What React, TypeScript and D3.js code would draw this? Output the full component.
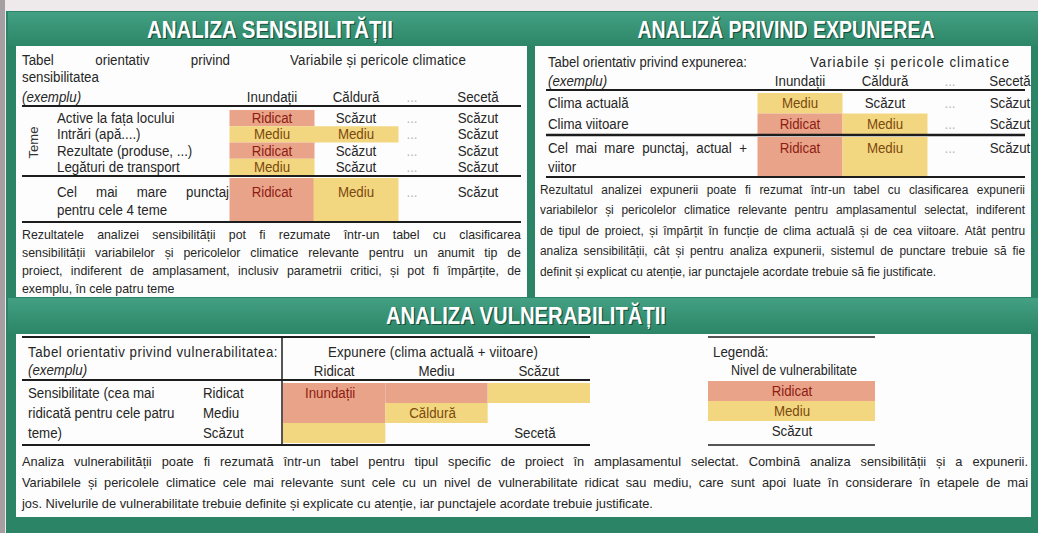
import { useEffect, useRef } from 'react';
import * as d3 from 'd3';

const W = 1038;
const H = 533;

// climate hazards (columns of the sensitivity / exposure tables)
const hazards = ['Inundații', 'Căldură', '...', 'Secetă'];

// sensitivity table
const themes = ['Active la fața locului', 'Intrări (apă....)', 'Rezultate (produse, ...)', 'Legături de transport'];
const sensitivity = [
  ['Ridicat', 'Scăzut', '...', 'Scăzut'],
  ['Mediu', 'Mediu', '...', 'Scăzut'],
  ['Ridicat', 'Scăzut', '...', 'Scăzut'],
  ['Mediu', 'Scăzut', '...', 'Scăzut'],
];
const sensitivityMax = ['Ridicat', 'Mediu', '...', 'Scăzut'];

// exposure table
const climates = ['Clima actuală', 'Clima viitoare'];
const exposure = [
  ['Mediu', 'Scăzut', '...', 'Scăzut'],
  ['Ridicat', 'Mediu', '...', 'Scăzut'],
];
const exposureMax = ['Ridicat', 'Mediu', '...', 'Scăzut'];

// vulnerability matrix: rows = sensitivity level, columns = exposure level
const levels = ['Ridicat', 'Mediu', 'Scăzut'];
const vulnerability = [
  ['Ridicat', 'Ridicat', 'Mediu'],
  ['Ridicat', 'Mediu', 'Scăzut'],
  ['Mediu', 'Scăzut', 'Scăzut'],
];
const placedHazards = [
  { hazard: 'Inundații', sens: 'Ridicat', exp: 'Ridicat' },
  { hazard: 'Căldură', sens: 'Mediu', exp: 'Mediu' },
  { hazard: 'Secetă', sens: 'Scăzut', exp: 'Scăzut' },
];
const sensLabel = ['Sensibilitate (cea mai', 'ridicată pentru cele patru', 'teme)'];

const sensNote = [
  'Rezultatele analizei sensibilității pot fi rezumate într-un tabel cu clasificarea',
  'sensibilității variabilelor și pericolelor climatice relevante pentru un anumit tip de',
  'proiect, indiferent de amplasament, inclusiv parametrii critici, și pot fi împărțite, de',
  'exemplu, în cele patru teme',
];
const expNote = [
  'Rezultatul analizei expunerii poate fi rezumat într-un tabel cu clasificarea expunerii',
  'variabilelor și pericolelor climatice relevante pentru amplasamentul selectat, indiferent',
  'de tipul de proiect, și împărțit în funcție de clima actuală și de cea viitoare. Atât pentru',
  'analiza sensibilității, cât și pentru analiza expunerii, sistemul de punctare trebuie să fie',
  'definit și explicat cu atenție, iar punctajele acordate trebuie să fie justificate.',
];
const vulnNote = [
  'Analiza vulnerabilității poate fi rezumată într-un tabel pentru tipul specific de proiect în amplasamentul selectat. Combină analiza sensibilității și a expunerii.',
  'Variabilele și pericolele climatice cele mai relevante sunt cele cu un nivel de vulnerabilitate ridicat sau mediu, care sunt apoi luate în considerare în etapele de mai',
  'jos. Nivelurile de vulnerabilitate trebuie definite și explicate cu atenție, iar punctajele acordate trebuie justificate.',
];

const FONT = "'Liberation Sans', Arial, sans-serif";
const SQUEEZE = 0.95; // the scan's face is a little narrower than Liberation Sans
const INK = '#262626';

const fillOf = d3.scaleOrdinal<string, string>().domain(['Ridicat', 'Mediu']).range(['#e8a389', '#f3d680']).unknown('none');
const inkOf = d3.scaleOrdinal<string, string>().domain(['Ridicat', 'Mediu', '...']).range(['#8e1c12', '#7a4a0e', '#b8b8b8']).unknown(INK);

type Opts = { size?: number; anchor?: string; fill?: string; weight?: number; italic?: boolean; width?: number; spread?: number };

function put(g: any, s: string, x: number, y: number, o: Opts = {}) {
  const { size = 14, anchor = 'start', fill = INK, weight = 400, italic = false, width, spread } = o;
  const t = g
    .append('text')
    .attr('x', x)
    .attr('y', y + size * 0.36)
    .attr('font-family', FONT)
    .attr('font-size', size)
    .attr('font-weight', weight)
    .attr('text-anchor', anchor)
    .attr('fill', fill)
    .text(s);
  if (italic) t.attr('font-style', 'italic');
  const natural = (t.node() as SVGTextElement).getComputedTextLength();
  if (natural <= 0) return t;
  if (spread) {
    // letter-spaced to a set width, glyphs keep the narrow face
    const glyphs = natural * SQUEEZE;
    const ls = s.length > 1 ? (spread - glyphs) / (s.length - 1) : 0;
    t.attr('letter-spacing', 0).attr('textLength', spread).attr('lengthAdjust', 'spacingAndGlyphs');
    if (ls > 0) {
      t.attr('letter-spacing', ls / SQUEEZE);
    }
  } else {
    t.attr('textLength', width ?? natural * SQUEEZE).attr('lengthAdjust', 'spacingAndGlyphs');
  }
  return t;
}

// spread the words of one line between x0 and x1
function justify(g: any, s: string, x0: number, x1: number, y: number, size: number) {
  const words = s.split(' ');
  const line = g.append('g');
  const nodes = words.map(w => put(line, w, x0, y, { size }));
  const widths = nodes.map((n: any) => +n.attr('textLength'));
  const total = d3.sum(widths);
  const gap = words.length > 1 ? (x1 - x0 - total) / (words.length - 1) : 0;
  let x = x0;
  nodes.forEach((n: any, i: number) => {
    n.attr('x', x);
    x += widths[i] + gap;
  });
}

function hline(g: any, x0: number, x1: number, y: number, w = 2) {
  g.append('line').attr('x1', x0).attr('x2', x1).attr('y1', y).attr('y2', y).attr('stroke', '#1d1d1d').attr('stroke-width', w);
}

function paragraph(g: any, lines: string[], x0: number, x1: number, y0: number, step: number, size: number) {
  lines.forEach((line, i) => {
    if (i === lines.length - 1) put(g, line, x0, y0 + i * step, { size });
    else justify(g, line, x0, x1, y0 + i * step, size);
  });
}

export default function App() {
  const ref = useRef<SVGSVGElement>(null);

  useEffect(() => {
    const svg = d3.select(ref.current);
    svg.selectAll('*').remove();

    const defs = svg.append('defs');
    const grad = defs.append('linearGradient').attr('id', 'band').attr('x1', 0).attr('x2', 0).attr('y1', 0).attr('y2', 1);
    grad.append('stop').attr('offset', '0%').attr('stop-color', '#44a083');
    grad.append('stop').attr('offset', '100%').attr('stop-color', '#2c8667');

    // paper + frame
    svg.append('rect').attr('width', W).attr('height', H).attr('fill', '#eeeaec');
    svg.append('rect').attr('x', 0).attr('y', 0).attr('width', 5).attr('height', H).attr('fill', '#a59ea2');
    svg.append('rect').attr('x', 6).attr('y', 11).attr('width', W - 6).attr('height', H - 11).attr('fill', '#2b8465');
    svg.append('rect').attr('x', 8).attr('y', 12).attr('width', W - 8).attr('height', 34).attr('fill', 'url(#band)');
    svg.append('rect').attr('x', 8).attr('y', 298).attr('width', W - 8).attr('height', 35).attr('fill', 'url(#band)');

    // white panels
    [
      [16, 46, 511, 251],
      [535, 46, 496, 251],
      [16, 334, 1015, 183],
    ].forEach(([x, y, w, h]) => svg.append('rect').attr('x', x).attr('y', y).attr('width', w).attr('height', h).attr('fill', '#fdfdfd'));

    // titles
    const title = (s: string, cx: number, y: number, width: number) => {
      [['#17513d', 1.2], ['#ffffff', 0]].forEach(([c, d]) => {
        svg
          .append('text')
          .attr('x', cx + (d as number))
          .attr('y', y + (d as number))
          .attr('text-anchor', 'middle')
          .attr('font-family', FONT)
          .attr('font-weight', 700)
          .attr('font-size', 23)
          .attr('fill', c as string)
          .attr('textLength', width)
          .attr('lengthAdjust', 'spacingAndGlyphs')
          .text(s);
      });
    };
    title('ANALIZA SENSIBILITĂȚII', 270, 38, 246);
    title('ANALIZĂ PRIVIND EXPUNEREA', 786, 38, 297);
    title('ANALIZA VULNERABILITĂȚII', 526, 324, 280);

    // ---------- sensitivity ----------
    const gs = svg.append('g');
    const sx = d3.scaleOrdinal<string, number>().domain(hazards).range([272, 356, 412, 478]);
    const sy = d3.scaleBand<string>().domain(themes).range([110, 175]);
    const cellW = 85;
    const sMaxTop = 178;
    const sMaxBottom = 221;

    justify(gs, 'Tabel orientativ privind', 22, 230, 60, 14);
    put(gs, 'Variabile și pericole climatice', 290, 60, { spread: 176 });
    put(gs, 'sensibilitatea', 22, 77);
    put(gs, '(exemplu)', 22, 97, { italic: true });
    hazards.forEach(h => put(gs, h, sx(h), 97, { anchor: 'middle', fill: h === '...' ? '#b8b8b8' : INK }));

    themes.forEach((t, i) => {
      const y = sy(t)!;
      sensitivity[i].forEach((v, j) => {
        const h = hazards[j];
        if (fillOf(v) !== 'none')
          gs.append('rect').attr('x', sx(h) - cellW / 2).attr('y', y).attr('width', cellW).attr('height', sy.bandwidth()).attr('fill', fillOf(v));
      });
    });
    sensitivityMax.forEach((v, j) => {
      const h = hazards[j];
      if (fillOf(v) !== 'none')
        gs.append('rect').attr('x', sx(h) - cellW / 2).attr('y', sMaxTop).attr('width', cellW).attr('height', sMaxBottom - sMaxTop).attr('fill', fillOf(v));
    });
    themes.forEach((t, i) => {
      const cy = sy(t)! + sy.bandwidth() / 2;
      put(gs, t, 57, cy);
      sensitivity[i].forEach((v, j) => put(gs, v, sx(hazards[j]), cy, { anchor: 'middle', fill: inkOf(v) }));
    });
    justify(gs, 'Cel mai mare punctaj', 57, 229, 192, 14);
    put(gs, 'pentru cele 4 teme', 57, 210);
    sensitivityMax.forEach((v, j) => put(gs, v, sx(hazards[j]), 192, { anchor: 'middle', fill: inkOf(v) }));

    gs.append('text')
      .attr('transform', `translate(38,${(sy.range()[0] + sy.range()[1]) / 2}) rotate(-90)`)
      .attr('text-anchor', 'middle')
      .attr('font-family', FONT)
      .attr('font-size', 13)
      .attr('fill', '#333')
      .text('Teme');

    hline(gs, 22, 521, 106);
    hline(gs, 22, 521, 176);
    hline(gs, 22, 521, 222);
    paragraph(gs, sensNote, 22, 521, 234, 18, 13);

    // ---------- exposure ----------
    const ge = svg.append('g');
    const ex = d3.scaleOrdinal<string, number>().domain(hazards).range([800, 885, 950, 1010]);
    const ey = d3.scaleBand<string>().domain(climates).range([93, 134]);
    const eMaxTop = 137;
    const eMaxBottom = 176;

    put(ge, 'Tabel orientativ privind expunerea:', 548, 62, { spread: 199 });
    put(ge, 'Variabile și pericole climatice', 910, 62, { anchor: 'middle', spread: 200 });
    put(ge, '(exemplu)', 548, 81, { italic: true });
    hazards.forEach(h => put(ge, h, ex(h), 81, { anchor: 'middle', fill: h === '...' ? '#b8b8b8' : INK }));

    climates.forEach((c, i) => {
      exposure[i].forEach((v, j) => {
        const h = hazards[j];
        if (fillOf(v) !== 'none')
          ge.append('rect').attr('x', ex(h) - cellW / 2).attr('y', ey(c)!).attr('width', cellW).attr('height', ey.bandwidth()).attr('fill', fillOf(v));
      });
    });
    exposureMax.forEach((v, j) => {
      const h = hazards[j];
      if (fillOf(v) !== 'none')
        ge.append('rect').attr('x', ex(h) - cellW / 2).attr('y', eMaxTop).attr('width', cellW).attr('height', eMaxBottom - eMaxTop).attr('fill', fillOf(v));
    });
    climates.forEach((c, i) => {
      const cy = ey(c)! + ey.bandwidth() / 2;
      put(ge, c, 548, cy);
      exposure[i].forEach((v, j) => put(ge, v, ex(hazards[j]), cy, { anchor: 'middle', fill: inkOf(v) }));
    });
    justify(ge, 'Cel mai mare punctaj, actual +', 548, 747, 148, 14);
    put(ge, 'viitor', 548, 167);
    exposureMax.forEach((v, j) => put(ge, v, ex(hazards[j]), 148, { anchor: 'middle', fill: inkOf(v) }));

    hline(ge, 546, 1025, 90);
    hline(ge, 546, 1025, 135, 2.5);
    hline(ge, 546, 1025, 177);
    paragraph(ge, expNote, 540, 1025, 189, 20.5, 12.5);

    // ---------- vulnerability ----------
    const gv = svg.append('g');
    const vx = d3.scaleBand<string>().domain(levels).range([283, 590]);
    const vy = d3.scaleBand<string>().domain(levels).range([383, 443]);

    levels.forEach((s, i) => {
      levels.forEach((e, j) => {
        const v = vulnerability[i][j];
        if (fillOf(v) !== 'none')
          gv.append('rect').attr('x', vx(e)!).attr('y', vy(s)!).attr('width', vx.bandwidth()).attr('height', vy.bandwidth()).attr('fill', fillOf(v));
      });
    });
    placedHazards.forEach(p => {
      const v = vulnerability[levels.indexOf(p.sens)][levels.indexOf(p.exp)];
      put(gv, p.hazard, vx(p.exp)! + vx.bandwidth() / 2 - 4, vy(p.sens)! + vy.bandwidth() / 2, { anchor: 'middle', fill: inkOf(v) });
    });

    put(gv, 'Tabel orientativ privind vulnerabilitatea:', 28, 352, { spread: 250 });
    put(gv, '(exemplu)', 28, 370, { italic: true });
    put(gv, 'Expunere (clima actuală + viitoare)', 433, 352, { anchor: 'middle', spread: 210 });
    levels.forEach(l => put(gv, l, vx(l)! + vx.bandwidth() / 2, 371, { anchor: 'middle' }));
    sensLabel.forEach((s, i) => {
      const l = levels[i];
      const cy = vy(l)! + vy.bandwidth() / 2;
      put(gv, s, 28, cy);
      put(gv, l, 203, cy);
    });
    hline(gv, 22, 590, 337);
    hline(gv, 22, 590, 380);
    hline(gv, 22, 590, 445);
    gv.append('line').attr('x1', 282).attr('x2', 282).attr('y1', 337).attr('y2', 445).attr('stroke', '#1d1d1d').attr('stroke-width', 1.5);

    // legend
    const ly = d3.scaleBand<string>().domain(levels).range([381, 441]);
    hline(gv, 708, 875, 337, 1.5);
    hline(gv, 708, 875, 445, 1.5);
    put(gv, 'Legendă:', 713, 352);
    put(gv, 'Nivel de vulnerabilitate', 794, 370, { anchor: 'middle', spread: 126 });
    levels.forEach(l => {
      if (fillOf(l) !== 'none')
        gv.append('rect').attr('x', 708).attr('y', ly(l)!).attr('width', 167).attr('height', ly.bandwidth()).attr('fill', fillOf(l));
      put(gv, l, 792, ly(l)! + ly.bandwidth() / 2, { anchor: 'middle', fill: inkOf(l) });
    });

    paragraph(gv, vulnNote, 22, 1028, 461, 21, 13.5);
  }, []);

  return <svg ref={ref} width={W} height={H} style={{ position: 'absolute', left: 0, top: 0, display: 'block' }} />;
}
